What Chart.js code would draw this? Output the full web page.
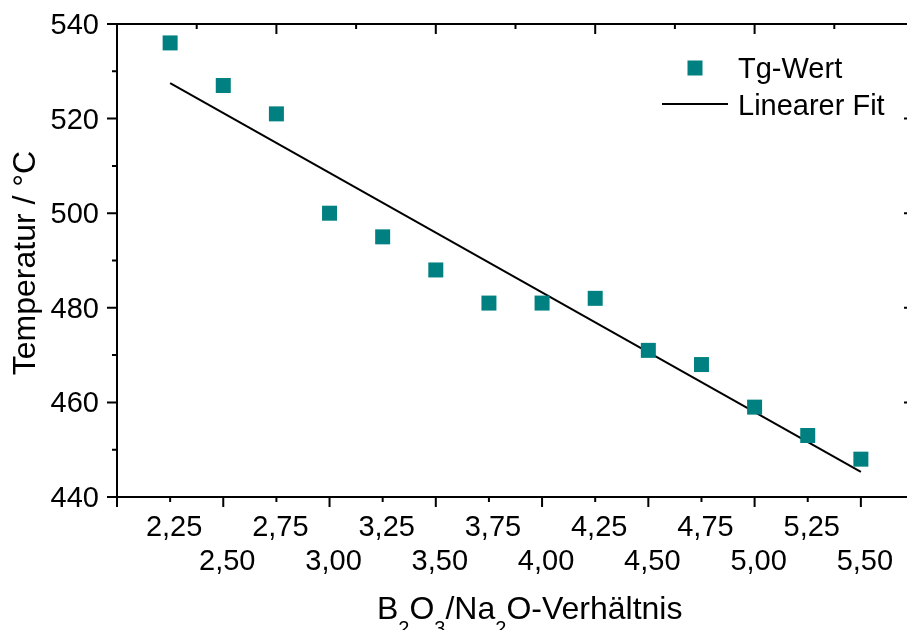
<!DOCTYPE html>
<html>
<head>
<meta charset="utf-8">
<script src="https://cdn.jsdelivr.net/npm/chart.js@4/dist/chart.umd.min.js"></script>
<style>
  html, body { margin: 0; padding: 0; background: #fff; overflow: hidden; }
  #wrap { width: 930px; height: 630px; }
</style>
</head>
<body>
<div id="wrap"><canvas id="tgChart" width="930" height="630"></canvas></div>
<script>
// B2O3/Na2O ratio and glass transition temperature
const ratios = [2.25, 2.50, 2.75, 3.00, 3.25, 3.50, 3.75, 4.00, 4.25, 4.50, 4.75, 5.00, 5.25, 5.50];
const tgValues = [536, 527, 521, 500, 495, 488, 481, 481, 482, 471, 468, 459, 453, 448];

// linear fit, end points
const fitX = [2.25, 5.50];
const fitY = [527.5, 445.3];

// axis ticks
const xTickValues = [2.25, 2.50, 2.75, 3.00, 3.25, 3.50, 3.75, 4.00, 4.25, 4.50, 4.75, 5.00, 5.25, 5.50];
const xTickLabels = ['2,25', '2,50', '2,75', '3,00', '3,25', '3,50', '3,75', '4,00', '4,25', '4,50', '4,75', '5,00', '5,25', '5,50'];
const xMajorTicks = [2.0, 2.5, 3.0, 3.5, 4.0, 4.5, 5.0, 5.5];
const xMinorTicks = [2.25, 2.75, 3.25, 3.75, 4.25, 4.75, 5.25, 5.75];
const topTicks = [0, 1, 2, 3, 4, 5, 6, 7, 8, 9, 10];
const yTickValues = [440, 460, 480, 500, 520, 540];
const yTickLabels = ['440', '460', '480', '500', '520', '540'];
const yMinorTicks = [450, 470, 490, 510, 530];

const teal = '#008080';
const FONT = '"Liberation Sans", Arial, sans-serif';

function put(ctx, s, x, y, size, align) {
  ctx.font = size + 'px ' + FONT;
  ctx.textAlign = align || 'left';
  ctx.textBaseline = 'alphabetic';
  ctx.fillText(s, x, y);
  return ctx.measureText(s).width;
}

// frame, ticks, labels, titles and legend in the Origin style
const originAxes = {
  id: 'originAxes',
  afterDraw(chart) {
    const { ctx, chartArea: a, scales } = chart;
    const x = scales.x, x2 = scales.x2, y = scales.y;
    ctx.save();
    ctx.strokeStyle = '#000';
    ctx.fillStyle = '#000';
    ctx.lineWidth = 2;
    ctx.strokeRect(a.left, a.top, a.right - a.left, a.bottom - a.top);

    ctx.beginPath();
    yTickValues.forEach(v => {
      const py = y.getPixelForValue(v);
      ctx.moveTo(a.left - 10, py); ctx.lineTo(a.left, py);
      ctx.moveTo(a.right, py); ctx.lineTo(a.right - 10, py);
    });
    yMinorTicks.forEach(v => {
      const py = y.getPixelForValue(v);
      ctx.moveTo(a.left - 5, py); ctx.lineTo(a.left, py);
      ctx.moveTo(a.right, py); ctx.lineTo(a.right - 5, py);
    });
    xMajorTicks.forEach(v => {
      const px = x.getPixelForValue(v);
      ctx.moveTo(px, a.bottom); ctx.lineTo(px, a.bottom + 10);
    });
    xMinorTicks.forEach(v => {
      const px = x.getPixelForValue(v);
      ctx.moveTo(px, a.bottom); ctx.lineTo(px, a.bottom + 5);
    });
    topTicks.forEach(v => {
      const px = x2.getPixelForValue(v);
      const len = v % 2 === 0 ? 10 : 5;
      ctx.moveTo(px, a.top); ctx.lineTo(px, a.top + len);
    });
    ctx.stroke();

    // tick labels
    yTickValues.forEach((v, i) => {
      put(ctx, yTickLabels[i], a.left - 18, y.getPixelForValue(v) + 10, 29, 'right');
    });
    xTickValues.forEach((v, i) => {
      const row = i % 2 === 0 ? 536 : 570;
      put(ctx, xTickLabels[i], x.getPixelForValue(v) + 4, row, 29, 'center');
    });

    // y title
    ctx.save();
    ctx.translate(35, 263);
    ctx.rotate(-Math.PI / 2);
    put(ctx, 'Temperatur / °C', 0, 0, 32, 'center');
    ctx.restore();

    // x title with subscripts
    let cx = 377;
    const base = 619, sub = 635;
    [['B', 0], ['2', 1], ['O', 0], ['3', 1], ['/Na', 0], ['2', 1], ['O-Verhältnis', 0]].forEach(p => {
      cx += p[1] ? put(ctx, p[0], cx, sub, 20) : put(ctx, p[0], cx, base, 32);
    });

    // legend
    ctx.fillStyle = teal;
    ctx.fillRect(687.5, 60.5, 15, 15);
    ctx.fillStyle = '#000';
    put(ctx, 'Tg-Wert', 738, 78, 29);
    ctx.beginPath();
    ctx.moveTo(662, 104); ctx.lineTo(728, 104);
    ctx.stroke();
    put(ctx, 'Linearer Fit', 738, 115, 29);
    ctx.restore();
  }
};

const hidden = { display: false };
new Chart(document.getElementById('tgChart'), {
  type: 'scatter',
  data: {
    datasets: [
      {
        label: 'Tg-Wert',
        data: ratios.map((r, i) => ({ x: r, y: tgValues[i] })),
        pointStyle: 'rect',
        pointRadius: 10.6,
        pointBorderWidth: 0,
        pointBackgroundColor: teal,
        showLine: false
      },
      {
        label: 'Linearer Fit',
        data: fitX.map((r, i) => ({ x: r, y: fitY[i] })),
        showLine: true,
        borderColor: '#000',
        borderWidth: 2,
        pointRadius: 0,
        fill: false
      }
    ]
  },
  options: {
    responsive: false,
    animation: false,
    devicePixelRatio: 1,
    layout: { padding: 0 },
    plugins: { legend: hidden, tooltip: { enabled: false } },
    scales: {
      x: {
        type: 'linear', position: 'bottom', min: 2, max: 5.75,
        ticks: { display: false }, grid: { display: false, drawTicks: false }, border: hidden,
        afterFit: s => { s.height = 133; }
      },
      x2: {
        type: 'linear', position: 'top', min: 0, max: 10,
        ticks: { display: false }, grid: { display: false, drawTicks: false }, border: hidden,
        afterFit: s => { s.height = 24; }
      },
      y: {
        type: 'linear', position: 'left', min: 440, max: 540,
        ticks: { display: false }, grid: { display: false, drawTicks: false }, border: hidden,
        afterFit: s => { s.width = 117; }
      },
      y2: {
        type: 'linear', position: 'right', min: 440, max: 540,
        ticks: { display: false }, grid: { display: false, drawTicks: false }, border: hidden,
        afterFit: s => { s.width = 16; }
      }
    }
  },
  plugins: [originAxes]
});
</script>
</body>
</html>
